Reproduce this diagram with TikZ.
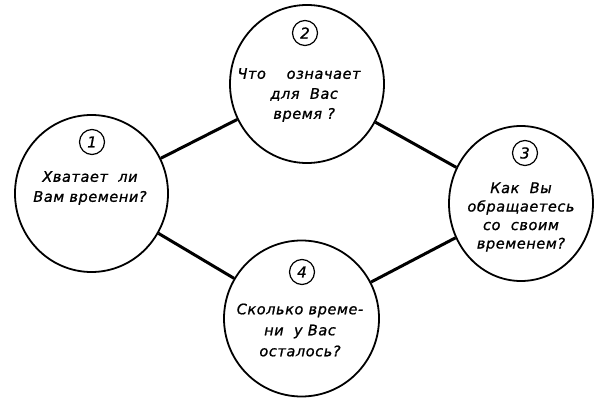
\documentclass[tikz,border=0pt]{standalone}
\usepackage{fontspec}
\newfontfamily\hand{DejaVu Sans}[LetterSpace=4,FakeBold=1]
\usetikzlibrary{shapes.geometric}
\tikzset{
  bigc/.style={draw, ellipse, line width=1.8pt, inner sep=0pt},
  numc/.style={draw, circle, line width=1.2pt, minimum size=25pt, inner sep=0pt, font=\hand\itshape\fontsize{15}{15}\selectfont},
  qtext/.style={align=center, inner sep=0pt, font=\hand\itshape\fontsize{14.5}{#1}\selectfont},
  link/.style={line width=3pt}
}
\begin{document}
\begin{tikzpicture}[x=1pt,y=-1pt]
\useasboundingbox (0,0) rectangle (594,398);
\node[bigc, minimum width=153pt, minimum height=157pt] (c1) at (91.5,193.5) {};
\node[bigc, minimum width=154pt, minimum height=158pt] (c2) at (307,84) {};
\node[bigc, minimum width=144pt, minimum height=155pt] (c3) at (521,203.5) {};
\node[bigc, minimum width=155pt, minimum height=156pt] (c4) at (301.5,318.5) {};
\draw[link] (c1) -- (c2);
\draw[link] (c2) -- (c3);
\draw[link] (c1) -- (c4);
\draw[link] (c4) -- (c3);
\node[numc] (n1) at (92,142) {1};
\node[numc] (n2) at (305,33) {2};
\node[numc] (n3) at (525,153) {3};
\node[numc] (n4) at (302,272) {4};
\node[qtext=20pt] (t1) at (90,188) {Хватает\ \ ли\\Вам времени?};
\node[qtext=20pt] (t2) at (299,95) {Что\ \ \ \ означает\\\ \ для\ \ Вас\\\ \ время ?};
\node[qtext=18.5pt] (t3) at (521,217) {Как\ \ Вы\\обращаетесь\\со\ \ своим\\временем?};
\node[qtext=21pt] (t4) at (300,330) {Сколько време-\\ни\ \ у Вас\\осталось?};
\end{tikzpicture}
\end{document}
